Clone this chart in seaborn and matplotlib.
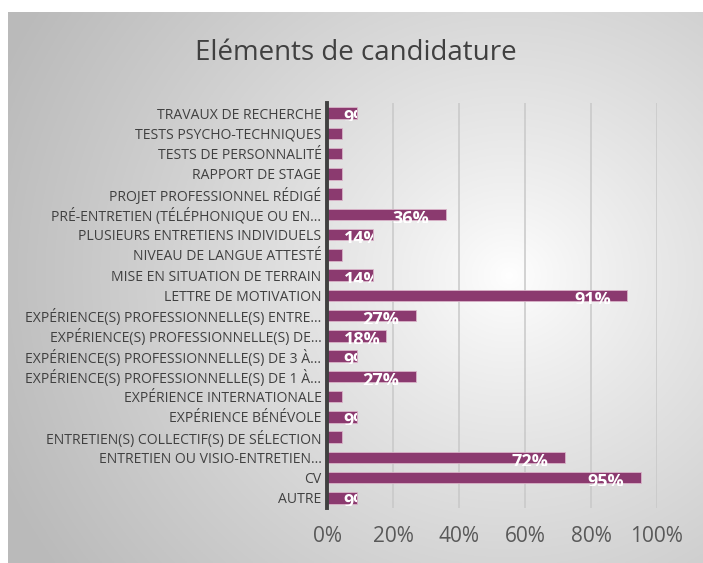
import numpy as np
import pandas as pd
import matplotlib
matplotlib.use("Agg")
import matplotlib.pyplot as plt
from matplotlib.patches import Rectangle
import seaborn as sns

categories = [
    "TRAVAUX DE RECHERCHE",
    "TESTS PSYCHO-TECHNIQUES",
    "TESTS DE PERSONNALITÉ",
    "RAPPORT DE STAGE",
    "PROJET PROFESSIONNEL RÉDIGÉ",
    "PRÉ-ENTRETIEN (TÉLÉPHONIQUE OU EN…",
    "PLUSIEURS ENTRETIENS INDIVIDUELS",
    "NIVEAU DE LANGUE ATTESTÉ",
    "MISE EN SITUATION DE TERRAIN",
    "LETTRE DE MOTIVATION",
    "EXPÉRIENCE(S) PROFESSIONNELLE(S) ENTRE…",
    "EXPÉRIENCE(S) PROFESSIONNELLE(S) DE…",
    "EXPÉRIENCE(S) PROFESSIONNELLE(S) DE 3 À…",
    "EXPÉRIENCE(S) PROFESSIONNELLE(S) DE 1 À…",
    "EXPÉRIENCE INTERNATIONALE",
    "EXPÉRIENCE BÉNÉVOLE",
    "ENTRETIEN(S) COLLECTIF(S) DE SÉLECTION",
    "ENTRETIEN OU VISIO-ENTRETIEN…",
    "CV",
    "AUTRE",
]
values = [9, 4.5, 4.5, 4.5, 4.5, 36, 14, 4.5, 14, 91,
          27, 18, 9, 27, 4.5, 9, 4.5, 72, 95, 9]
value_labels = ["9%", "", "", "", "", "36%", "14%", "", "14%", "91%",
                "27%", "18%", "9%", "27%", "", "9%", "", "72%", "95%", "9%"]
xticks = [0, 20, 40, 60, 80, 100]
xtick_labels = ["0%", "20%", "40%", "60%", "80%", "100%"]
title = "Eléments de candidature"

df = pd.DataFrame({"cat": categories, "val": values})

sns.set_theme(style="white")
plt.rcParams["font.family"] = ["Open Sans", "DejaVu Sans"]

W, H = 703, 563
fig = plt.figure(figsize=(W / 100, H / 100), dpi=100)
fig.patch.set_facecolor("white")

# gradient panel
bg = fig.add_axes([8 / W, 0, 1 - 8 / W, 1 - 12 / H], zorder=-10)
ny, nx = 300, 400
yy, xx = np.mgrid[0:ny, 0:nx]
cx, cy = 0.72 * nx, 0.52 * ny
r = np.sqrt(((xx - cx) / nx) ** 2 + ((yy - cy) / ny * 0.85) ** 2)
v = 1 - 0.27 * np.clip(r / 0.8, 0, 1) ** 0.85
img = np.dstack([v, v, v])
bg.imshow(img, aspect="auto", extent=[0, 1, 0, 1], origin="lower")
bg.set_axis_off()

ax = fig.add_axes([327 / W, 1 - 508 / H, (657 - 327) / W, (508 - 103) / H])
ax.set_facecolor("none")
sns.barplot(data=df, x="val", y="cat", color="#8B3A6F", saturation=1,
            width=0.58, ax=ax, orient="h", zorder=3,
            edgecolor="#d9b3c8", linewidth=0.6)
ax.set_xlim(0, 100)
ax.set_ylim(len(categories) - 0.5, -0.5)
ax.set_xticks(xticks)
ax.set_xticklabels(xtick_labels, fontsize=15, color="#595959")
ax.tick_params(axis="x", length=0, pad=13)
ax.tick_params(axis="y", length=0, pad=4)
ax.set_yticks(range(len(categories)))
ax.set_yticklabels(categories, fontsize=10.1, color="#404040")
ax.set_xlabel("")
ax.set_ylabel("")
for x in xticks[1:]:
    ax.axvline(x, color="#c8c8c8", lw=1.1, zorder=1)
for s in ["top", "right", "bottom"]:
    ax.spines[s].set_visible(False)
ax.spines["left"].set_color("#404040")
ax.spines["left"].set_linewidth(2.8)
ax.spines["left"].set_zorder(5)

for bar, lab, val in zip(ax.patches, value_labels, values):
    if not lab:
        continue
    yc = bar.get_y() + bar.get_height() / 2 + 0.22
    if val < 20:
        t = ax.text(5, yc, lab, ha="left", va="center", color="white",
                    fontsize=13, fontweight="bold", zorder=4)
    else:
        t = ax.text(val - 5, yc, lab, ha="right", va="center", color="white",
                    fontsize=13, fontweight="bold", zorder=4)
    clip = Rectangle((bar.get_x(), bar.get_y()), bar.get_width(),
                     bar.get_height() + 0.12, transform=ax.transData)
    t.set_clip_on(True)
    t.set_clip_path(clip)

fig.text(0.5 + 8 / W / 2, 1 - 53 / H, title, ha="center", va="center",
         fontsize=20, color="#404040")

fig.savefig("out.png", dpi=100)
